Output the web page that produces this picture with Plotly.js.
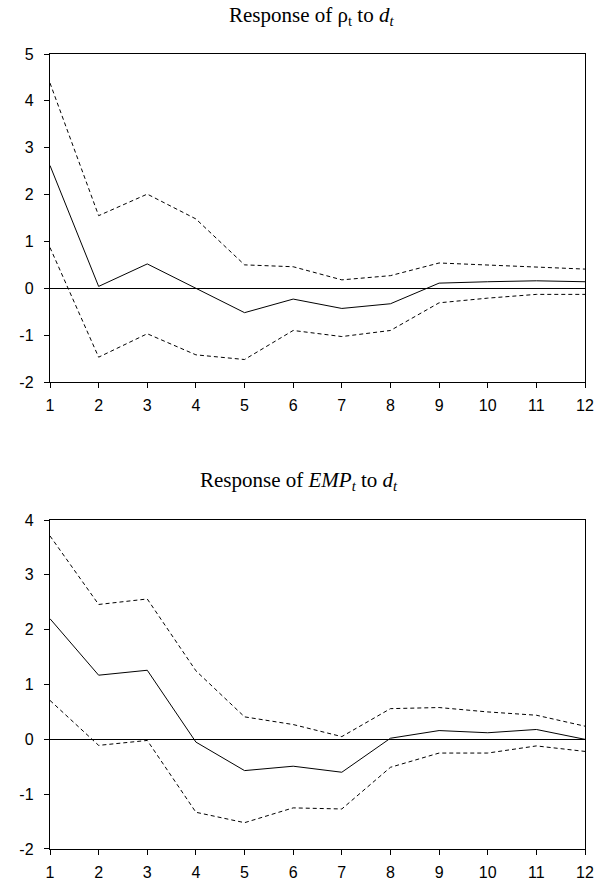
<!DOCTYPE html>
<html>
<head>
<meta charset="utf-8">
<script src="https://cdn.plot.ly/plotly-3.0.1.min.js"></script>
<style>html,body{margin:0;padding:0;background:#fff}</style>
</head>
<body>
<div id="chart" style="width:596px;height:882px"></div>
<script>
const periods = [1,2,3,4,5,6,7,8,9,10,11,12];

// Response of rho_t to d_t
const rhoResp  = [2.62, 0.04, 0.52, 0.0, -0.52, -0.23, -0.43, -0.33, 0.11, 0.14, 0.16, 0.14];
const rhoUpper = [4.38, 1.55, 2.01, 1.48, 0.50, 0.46, 0.18, 0.27, 0.54, 0.50, 0.45, 0.41];
const rhoLower = [0.87, -1.47, -0.97, -1.42, -1.52, -0.90, -1.03, -0.90, -0.31, -0.21, -0.13, -0.13];

// Response of EMP_t to d_t
const empResp  = [2.20, 1.17, 1.26, -0.05, -0.57, -0.49, -0.60, 0.02, 0.16, 0.12, 0.18, 0.0];
const empUpper = [3.71, 2.46, 2.56, 1.25, 0.41, 0.27, 0.05, 0.56, 0.58, 0.50, 0.44, 0.24];
const empLower = [0.71, -0.11, -0.02, -1.33, -1.52, -1.25, -1.27, -0.51, -0.25, -0.25, -0.12, -0.22];

// tick labels
const rhoTickVals = [-2,-1,0,1,2,3,4,5];
const rhoTickText = ["-2","-1","0","1","2","3","4","5"];
const empTickVals = [-2,-1,0,1,2,3,4];
const empTickText = ["-2","-1","0","1","2","3","4"];
const periodLabels = ["1","2","3","4","5","6","7","8","9","10","11","12"];

const titles = ["Response of \u03C1<sub>t</sub> to <i>d<sub>t</sub></i>",
                "Response of <i>EMP<sub>t</sub></i> to <i>d<sub>t</sub></i>"];

const solid = {color:'#000', width:1};
const dashed = {color:'#000', width:1, dash:'4px,3px'};

function tr(y, line, xa, ya){
  return {x: periods, y: y, type:'scatter', mode:'lines', line: line, xaxis: xa, yaxis: ya, hoverinfo:'none', showlegend:false};
}

const data = [
  tr(rhoResp, solid, 'x', 'y'),
  tr(rhoUpper, dashed, 'x', 'y'),
  tr(rhoLower, dashed, 'x', 'y'),
  tr(empResp, solid, 'x2', 'y2'),
  tr(empUpper, dashed, 'x2', 'y2'),
  tr(empLower, dashed, 'x2', 'y2')
];

const tickFont = {family:'Liberation Sans, Arial, sans-serif', size:16, color:'#000'};

function xax(anchor){
  return {anchor: anchor, domain:[0,1], range:[1,12], tickmode:'array', tickvals: periods, ticktext: periodLabels,
    ticks:'outside', ticklen:5, tickcolor:'#000', showline:true, linecolor:'#000', linewidth:1.2,
    mirror:true, showgrid:false, zeroline:false, tickfont: tickFont, ticklabelstandoff:4, fixedrange:true};
}
function yax(anchor, domain, range, vals, text){
  return {anchor: anchor, domain: domain, range: range, tickmode:'array', tickvals: vals, ticktext: text,
    ticks:'outside', ticklen:5, tickcolor:'#000', showline:true, linecolor:'#000', linewidth:1.2,
    mirror:true, showgrid:false, zeroline:true, zerolinecolor:'#000', zerolinewidth:1,
    tickfont: tickFont, ticklabelstandoff:7, fixedrange:true};
}

const titleFont = {family:'Liberation Serif, Times New Roman, serif', size:21, color:'#000'};

const layout = {
  width:596, height:882,
  margin:{l:50, r:10.5, t:54, b:33},
  paper_bgcolor:'#fff', plot_bgcolor:'#fff',
  xaxis: xax('y'),
  yaxis: yax('x', [0.5874, 1], [-2, 5], rhoTickVals, rhoTickText),
  xaxis2: xax('y2'),
  yaxis2: yax('x2', [0, 0.4138], [-2, 4], empTickVals, empTickText),
  annotations: [
    {text: titles[0], xref:'paper', yref:'paper', x:0.488, y:1.048, xanchor:'center', yanchor:'middle', showarrow:false, font: titleFont},
    {text: titles[1], xref:'paper', yref:'paper', x:0.465, y:0.4635, xanchor:'center', yanchor:'middle', showarrow:false, font: titleFont}
  ]
};

Plotly.newPlot('chart', data, layout, {staticPlot:true, displayModeBar:false});
</script>
</body>
</html>
